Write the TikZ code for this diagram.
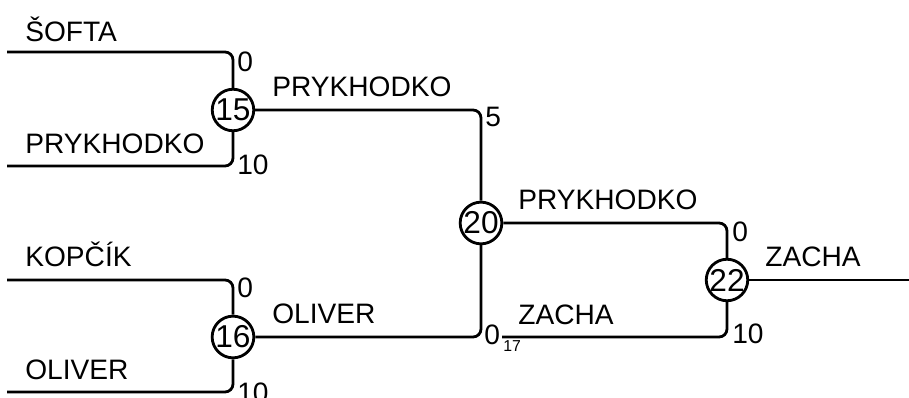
\documentclass[tikz,border=0pt]{standalone}
\usepackage{fontspec}
\setmainfont{Liberation Sans}
\begin{document}
\begin{tikzpicture}[x=0.02cm,y=-0.02cm,
  wire/.style={line width=1.6pt,rounded corners=0.16cm},
  score/.style={circle,draw,line width=1.6pt,minimum size=0.8cm,inner sep=0pt,font=\fontsize{18}{18}\selectfont},
  lbl/.style={anchor=base west,inner sep=0pt,font=\fontsize{16}{16}\selectfont},
  sub/.style={anchor=base west,inner sep=0pt,font=\fontsize{9}{9}\selectfont}]
\useasboundingbox (0,0) rectangle (909,398);
% score nodes
\node[score] (n15) at (233,110) {15};
\node[score] (n16) at (233,337) {16};
\node[score] (n20) at (481,223) {20};
\node[score] (n22) at (727,280) {22};
% free ends
\coordinate (s1) at (7,52);
\coordinate (s2) at (7,166);
\coordinate (s3) at (7,280);
\coordinate (s4) at (7,392);
\coordinate (z0) at (502,337);
\coordinate (out) at (909,280);
% connectors
\draw[wire] (s1) -| (n15);
\draw[wire] (s2) -| (n15);
\draw[wire] (s3) -| (n16);
\draw[wire] (s4) -| (n16);
\draw[wire] (n15) -| (n20);
\draw[wire] (n16) -| (n20);
\draw[wire] (n20) -| (n22);
\draw[wire] (z0) -| (n22);
\draw[wire] (n22) -- (out);
% labels
\node[lbl] (t1) at (25,42) {ŠOFTA};
\node[lbl] (t2) at (25,154) {PRYKHODKO};
\node[lbl] (t3) at (25,267) {KOPČÍK};
\node[lbl] (t4) at (25,379) {OLIVER};
\node[lbl] (t5) at (272,97) {PRYKHODKO};
\node[lbl] (t6) at (272,324) {OLIVER};
\node[lbl] (t7) at (518,210) {PRYKHODKO};
\node[lbl] (t8) at (518,325) {ZACHA};
\node[lbl] (t9) at (765,267) {ZACHA};
% scores
\node[lbl] (a1) at (237,72) {0};
\node[lbl] (a2) at (237,175) {10};
\node[lbl] (a3) at (237,298) {0};
\node[lbl] (a4) at (237,402) {10};
\node[lbl] (a5) at (485,127) {5};
\node[lbl] (a6) at (484,345) {0};
\node[sub] (a7) at (503,352) {17};
\node[lbl] (a8) at (732,242) {0};
\node[lbl] (a9) at (732,343) {10};
\end{tikzpicture}
\end{document}
